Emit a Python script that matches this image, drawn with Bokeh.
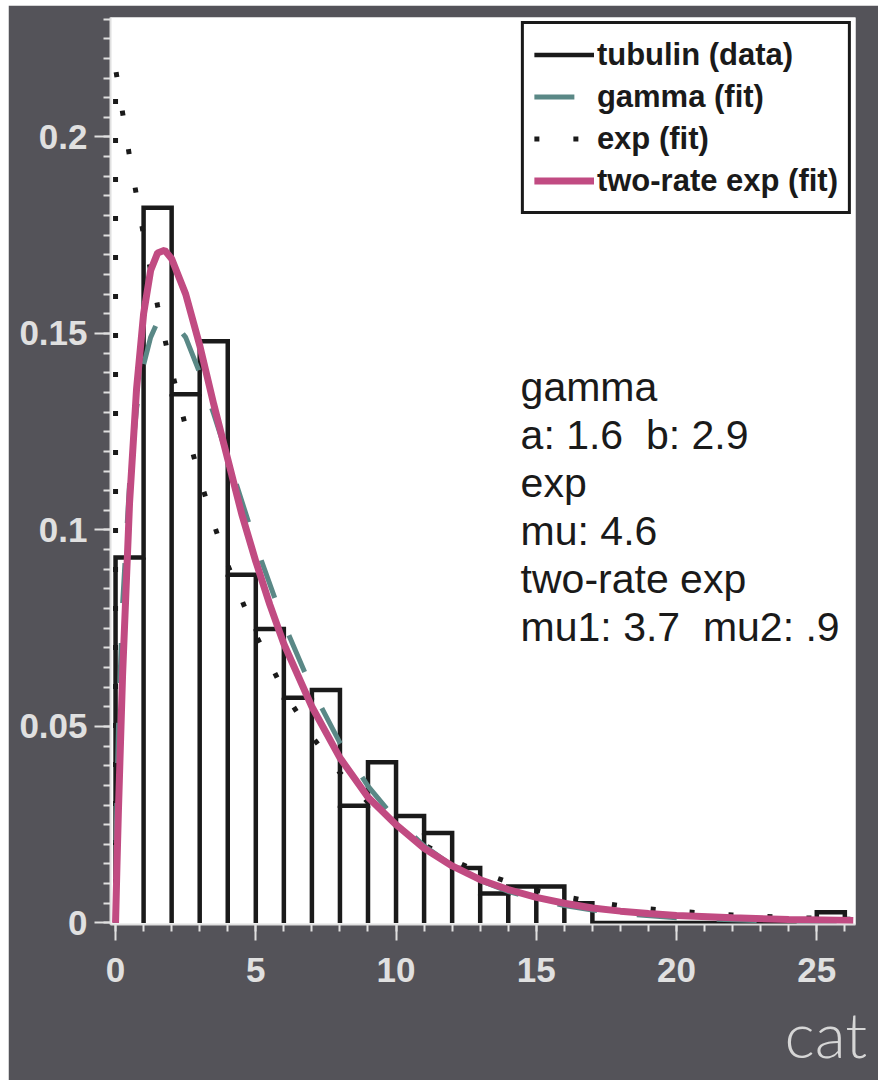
from bokeh.plotting import figure
from bokeh.models import (Range1d, FixedTicker, Legend, LegendItem, Title,
                          ColumnDataSource, Spacer)
from bokeh.layouts import column, row
from bokeh.embed import file_html
from bokeh.resources import INLINE
from bokeh.core.properties import value

# ---------------- data ----------------
bin_left = list(range(26))
bin_height = [0.093, 0.182, 0.1345, 0.148, 0.0886, 0.0748, 0.0573, 0.0593,
              0.0298, 0.0409, 0.0272, 0.0229, 0.0140, 0.0075, 0.0093, 0.0093,
              0.0050, 0.0, 0.0, 0.0, 0.0, 0.0, 0.0, 0.0, 0.0, 0.0027]

gamma_x = [0, 0.02, 0.05, 0.1, 0.25, 0.5, 0.75, 1, 1.25, 1.5, 1.75, 2, 2.5, 3,
           3.5, 4, 5, 6, 7, 8, 9, 10, 11, 12, 13, 14, 15, 16, 17, 18, 20, 22, 24, 26.3]
gamma_y = [0, 0.019, 0.033, 0.049, 0.081, 0.112, 0.131, 0.142, 0.149, 0.153,
           0.1545, 0.1535, 0.149, 0.140, 0.1295, 0.1185, 0.0962, 0.0762, 0.0595,
           0.0458, 0.0348, 0.0262, 0.0196, 0.0146, 0.0108, 0.0080, 0.0060,
           0.0044, 0.0033, 0.0024, 0.0013, 0.0008, 0.0004, 0.0002]

exp_x = [0, 0, 0.5, 1, 1.5, 2, 2.5, 3, 3.5, 4, 5, 6, 7, 8, 9, 10, 11, 12, 13,
         14, 15, 16, 17, 18, 19, 20, 22, 24, 26.3]
exp_y = [0, 0.2174, 0.195, 0.175, 0.157, 0.1407, 0.1262, 0.1132, 0.1016,
         0.0911, 0.0733, 0.059, 0.0475, 0.0382, 0.0307, 0.0247, 0.0199, 0.016,
         0.0129, 0.0104, 0.0083, 0.0067, 0.0054, 0.0044, 0.0036, 0.003, 0.002,
         0.0014, 0.0009]

two_x = [0, 0.05, 0.1, 0.25, 0.5, 0.75, 1, 1.25, 1.5, 1.75, 2, 2.5, 3, 3.5, 4,
         4.5, 5, 5.5, 6, 7, 8, 9, 10, 11, 12, 13, 14, 15, 16, 17, 18, 19, 20,
         22, 24, 26.3]
two_y = [0, 0.0145, 0.028, 0.063, 0.107, 0.136, 0.155, 0.166, 0.1705, 0.1712,
         0.169, 0.160, 0.147, 0.132, 0.118, 0.104, 0.092, 0.081, 0.071, 0.055,
         0.042, 0.032, 0.025, 0.019, 0.0145, 0.011, 0.0085, 0.0065, 0.005,
         0.0038, 0.003, 0.0024, 0.0019, 0.0013, 0.0009, 0.0006]

legend_labels = ["tubulin (data)", "gamma (fit)", "exp (fit)", "two-rate exp (fit)"]
stats_lines = ["gamma", "a: 1.6  b: 2.9", "exp", "mu: 4.6", "two-rate exp",
               "mu1: 3.7  mu2: .9"]

x_ticks = [0, 5, 10, 15, 20, 25]
y_ticks = [0, 0.05, 0.1, 0.15, 0.2]
y_tick_labels = ["0", "0.05", "0.1", "0.15", "0.2"]
x_axis_label = "cat"

# ---------------- styling ----------------
BG = "#545359"
LIGHT = "#e0e0e0"
BLACK = "#1a1a1a"
TEAL = "#5a8886"
MAGENTA = "#c14b82"
FONT = "Liberation Sans"

p = figure(width=870, height=1075,
           x_range=Range1d(-0.18, 26.38), y_range=Range1d(-0.0004, 0.2304),
           output_backend="svg", toolbar_location=None,
           min_border_left=102, min_border_right=23,
           min_border_top=12, min_border_bottom=155)
p.border_fill_color = BG
p.background_fill_color = "white"
p.outline_line_color = None
p.xgrid.visible = False
p.ygrid.visible = False

# axes
p.xaxis.ticker = FixedTicker(ticks=x_ticks, minor_ticks=list(range(0, 27)))
p.yaxis.ticker = FixedTicker(ticks=y_ticks,
                             minor_ticks=[i * 0.005 for i in range(47)])
p.yaxis.major_label_overrides = dict(zip(y_ticks, y_tick_labels))
for ax in (p.xaxis[0], p.yaxis[0]):
    ax.axis_line_color = LIGHT
    ax.axis_line_width = 2
    ax.major_tick_line_color = LIGHT
    ax.minor_tick_line_color = LIGHT
    ax.major_tick_line_width = 2
    ax.minor_tick_line_width = 2
    ax.major_tick_in = 0
    ax.minor_tick_in = 0
    ax.major_tick_out = 16
    ax.minor_tick_out = 7
    ax.major_label_text_font = FONT
    ax.major_label_text_font_style = "bold"
    ax.major_label_text_font_size = "35px"
    ax.major_label_text_color = LIGHT
p.yaxis.major_label_standoff = 7
p.xaxis.major_label_standoff = 17

# histogram: white bars + outline path
bin_right = [b + 1 for b in bin_left]
p.quad(left=bin_left, right=bin_right, bottom=0, top=bin_height,
       fill_color="white", line_color=None)

path_x, path_y = [], []
for l, r, h in zip(bin_left, bin_right, bin_height):
    path_x += [l, r]
    path_y += [h, h]
path_x = [bin_left[0]] + path_x + [bin_right[-1]]
path_y = [0] + path_y + [0]
r_hist = p.line(path_x, path_y, line_color=BLACK, line_width=4.5, line_join="miter")

seg_x = bin_left[1:]
seg_top = [min(a, b) for a, b in zip(bin_height[:-1], bin_height[1:])]
p.segment(x0=seg_x, y0=[0] * len(seg_x), x1=seg_x, y1=seg_top,
          line_color=BLACK, line_width=4.5)

# fits
r_exp = p.line(exp_x, exp_y, line_color=BLACK, line_width=5, line_dash="5 34")
r_gamma = p.line(gamma_x, gamma_y, line_color=TEAL, line_width=5, line_dash="40 40")
r_two = p.line(two_x, two_y, line_color=MAGENTA, line_width=7)

# fit parameter text (double spaces kept visible)
y0 = (923.3 - 387) / 3933.0
dy = 48 / 3933.0
src = ColumnDataSource(dict(x=[14.44] * len(stats_lines),
                            y=[y0 - i * dy for i in range(len(stats_lines))],
                            t=[s.replace("  ", "\u00a0 ") for s in stats_lines]))
p.text(x="x", y="y", text="t", source=src, text_font=value(FONT),
       text_font_size="41px", text_color=BLACK, text_baseline="alphabetic",
       text_align="left")

# legend
legend = Legend(items=[LegendItem(label=legend_labels[0], renderers=[r_hist]),
                       LegendItem(label=legend_labels[1], renderers=[r_gamma]),
                       LegendItem(label=legend_labels[2], renderers=[r_exp]),
                       LegendItem(label=legend_labels[3], renderers=[r_two])],
                location="top_right", margin=4, padding=10, spacing=1,
                glyph_width=60, glyph_height=41, label_height=41,
                label_standoff=3, label_text_font=FONT,
                label_text_font_style="bold", label_text_font_size="31px",
                label_text_color=BLACK,
                border_line_color=BLACK, border_line_width=3,
                border_line_alpha=1.0,
                background_fill_color="white", background_fill_alpha=1)
p.add_layout(legend)

# truncated x-axis title at bottom right
p.add_layout(Title(text=x_axis_label, align="left", offset=674, standoff=17,
                   text_font="Lato Light, Lato, sans-serif",
                   text_font_size="64px", text_font_style="normal",
                   text_color="#d6d6d6"), "below")

layout = column(Spacer(height=5), row(Spacer(width=8), p))
open("out.html", "w").write(file_html(layout, INLINE))
